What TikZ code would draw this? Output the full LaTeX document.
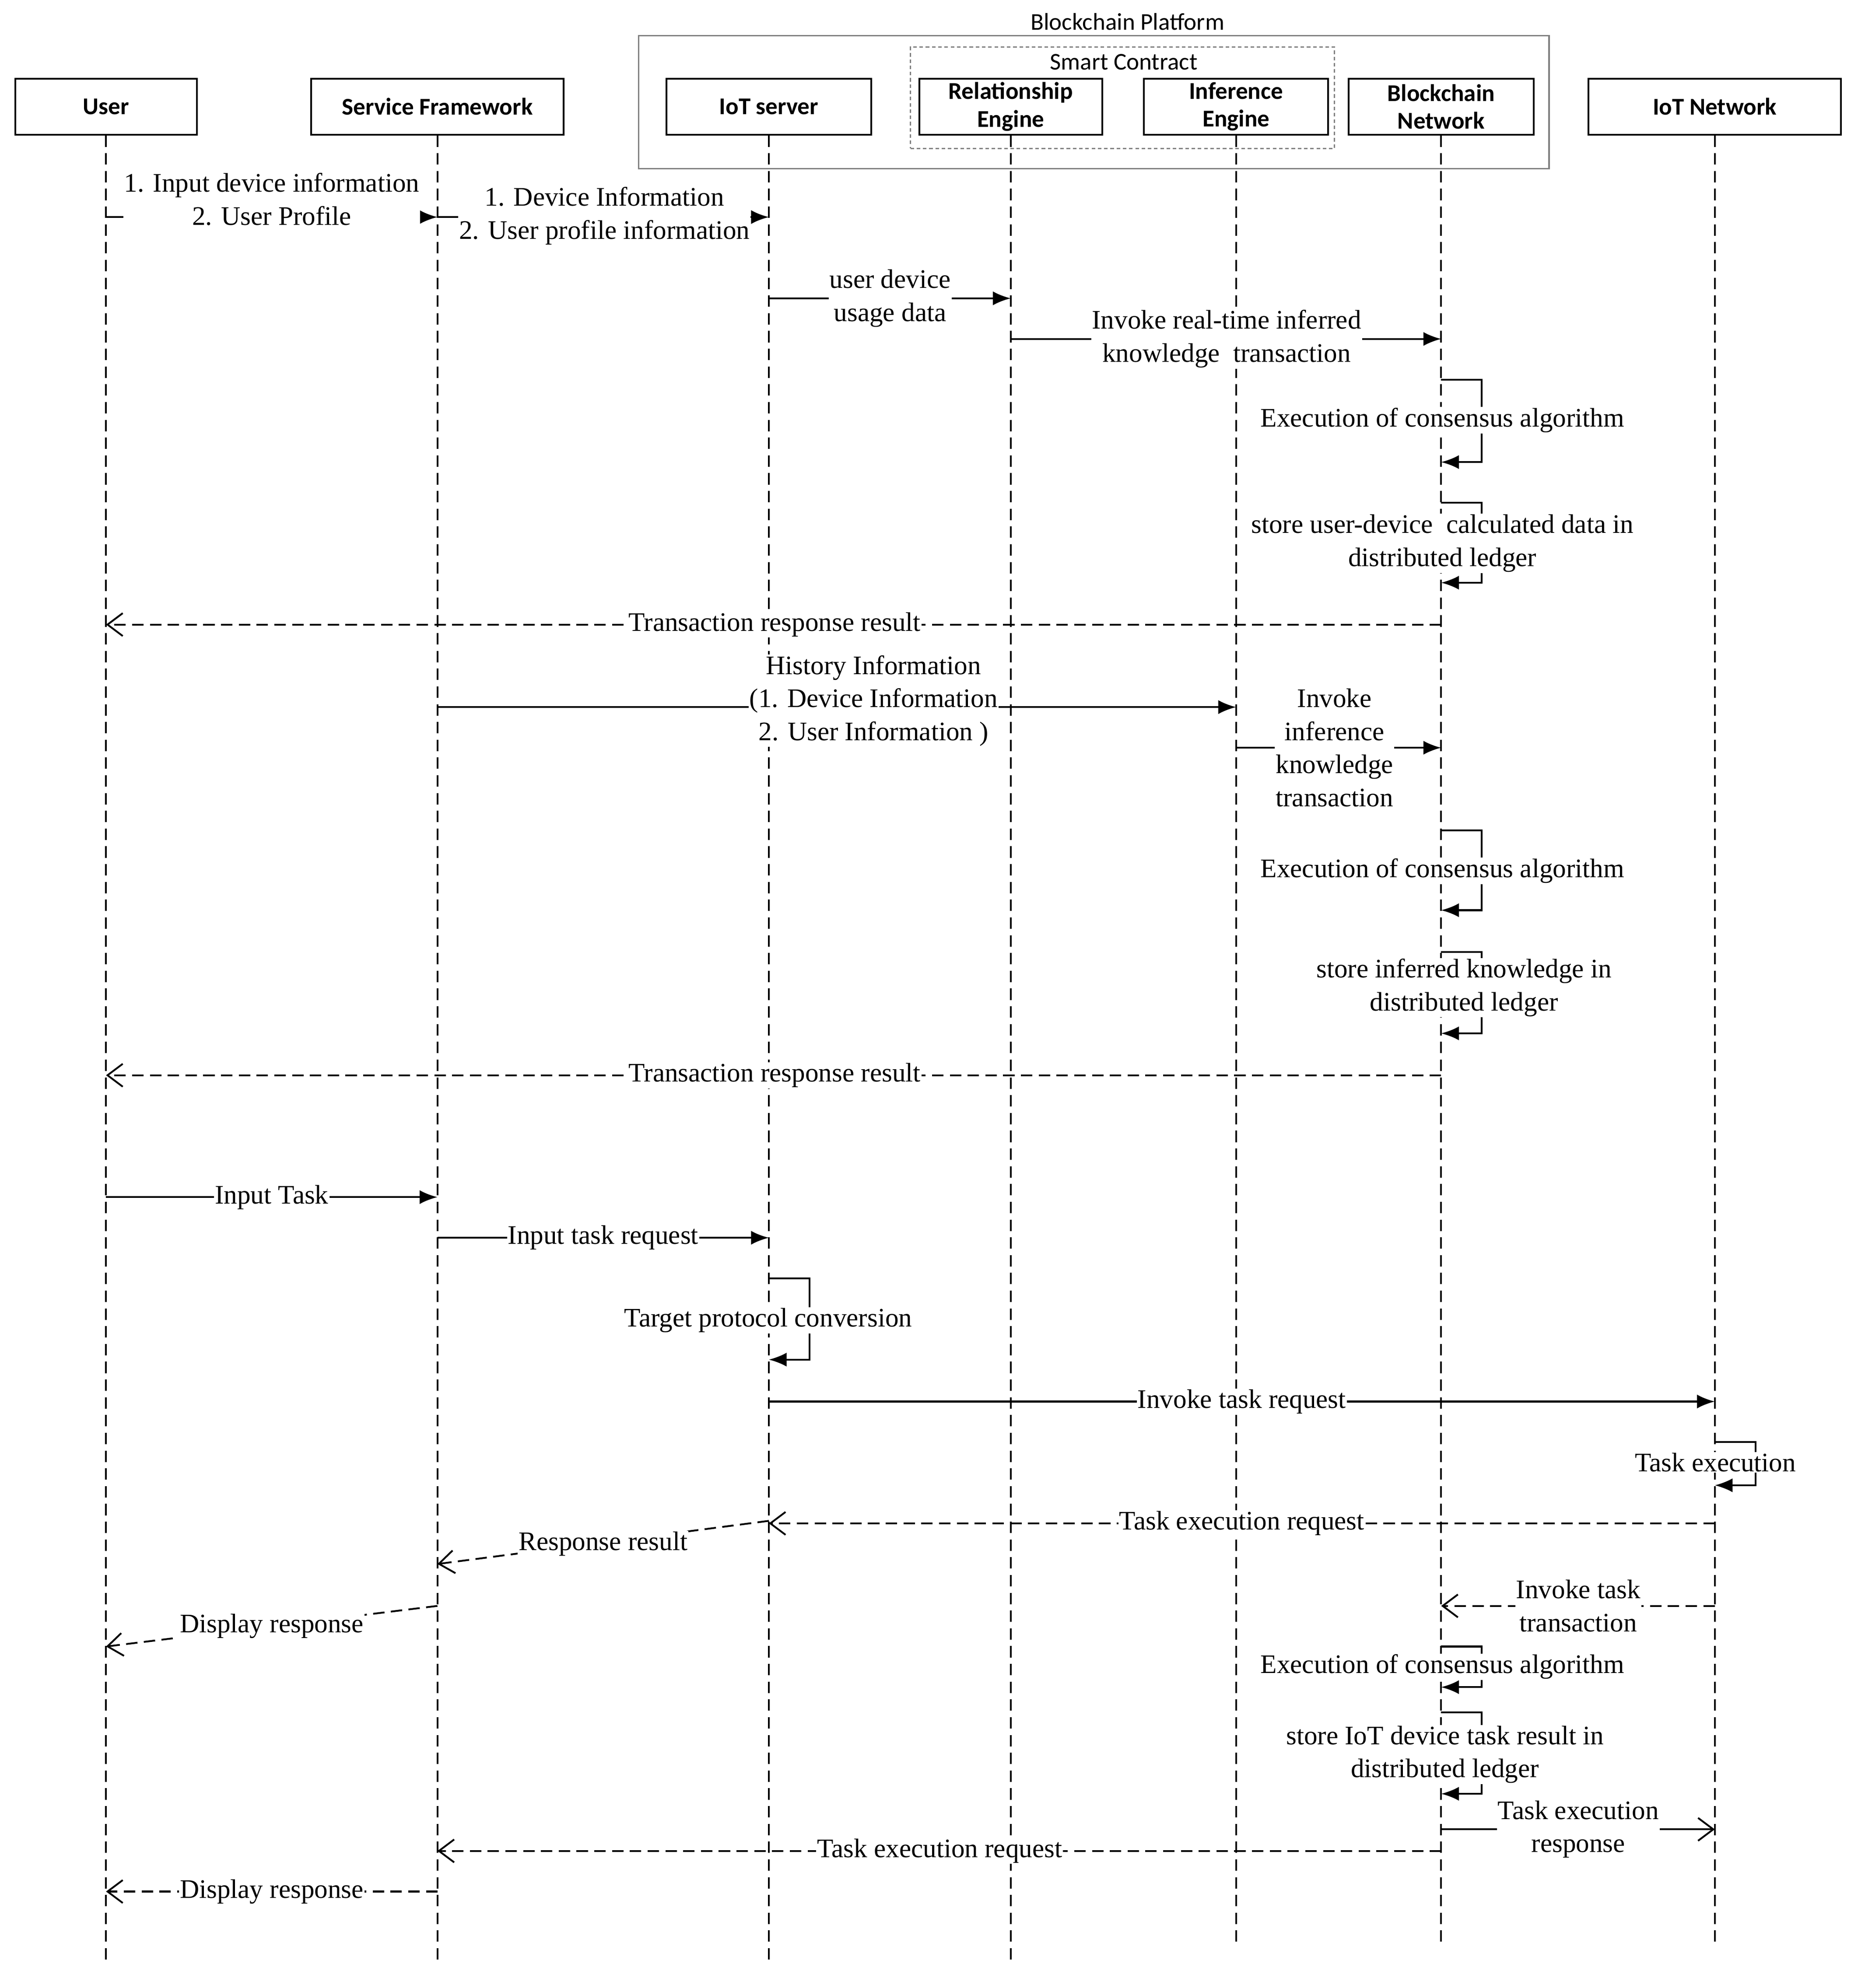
\documentclass[tikz,border=0pt]{standalone}
\usepackage{fontspec}
\setmainfont{Liberation Serif}
\newfontfamily\hdr{Carlito}
\usetikzlibrary{arrows.meta}
\begin{document}
\begin{tikzpicture}[x=0.05cm,y=-0.05cm,line width=2pt,
  hd/.style={draw,minimum height=2.2cm,inner sep=2pt,font=\hdr\bfseries\fontsize{27}{31}\selectfont,align=center},
  life/.style={dash pattern=on 0.45cm off 0.25cm},
  sol/.style={-{Latex[length=0.7cm,width=0.55cm]}},
  ret/.style={dash pattern=on 0.45cm off 0.25cm,-{Straight Barb[length=0.6cm,width=0.9cm]}},
  lb/.style={fill=white,inner sep=1pt,align=center,font=\fontsize{30}{37}\selectfont}]
\useasboundingbox (0,0) rectangle (1457.5,1566);
% platform boxes
\node[draw=gray,line width=1.5pt,minimum width=35.85cm,minimum height=5.25cm] (bp) at (861.5,80.5) {};
\node[font=\hdr\fontsize{27}{31}\selectfont] (bpl) at (888,17) {Blockchain Platform};
\node[draw=gray,line width=1.5pt,dash pattern=on 4pt off 3pt,minimum width=16.7cm,minimum height=4cm] (sc) at (884,77) {};
\node[font=\hdr\fontsize{27}{31}\selectfont] (scl) at (885,49) {Smart Contract};
% headers
\node[hd,minimum width=7.15cm] (u) at (83.5,84) {User};
\node[hd,minimum width=9.95cm] (sf) at (344.5,84) {Service Framework};
\node[hd,minimum width=8.05cm] (io) at (605.5,84) {IoT server};
\node[hd,minimum width=7.2cm] (re) at (796,84) {Relationship\\Engine};
\node[hd,minimum width=7.25cm] (ie) at (973.5,84) {Inference\\Engine};
\node[hd,minimum width=7.3cm] (bn) at (1135,84) {Blockchain\\Network};
\node[hd,minimum width=9.95cm] (in) at (1350.5,84) {IoT Network};
% lifelines
\draw[life] (u.south) -- (u|-0,1548);
\draw[life] (sf.south) -- (sf|-0,1548);
\draw[life] (io.south) -- (io|-0,1548);
\draw[life] (re.south) -- (re|-0,1548);
\draw[life] (ie.south) -- (ie|-0,1530);
\draw[life] (bn.south) -- (bn|-0,1530);
\draw[life] (in.south) -- (in|-0,1530);
% messages
\draw[sol] (u|-0,171) -- (sf|-0,171);
\node[lb] (m1) at (214,157) {1. Input device information\\2. User Profile};
\draw[sol] (sf|-0,171) -- (io|-0,171);
\node[lb] (m2) at (476,170) {1. Device Information\\2. User profile information};
\draw[sol] (io|-0,235) -- (re|-0,235);
\node[lb] (m3) at (701,235) {user device\\usage data};
\draw[sol] (re|-0,267) -- (bn|-0,267);
\node[lb] (m4) at (966,267) {Invoke real-time inferred\\knowledge\ \ transaction};
\draw[sol] (bn|-0,299) -- ++(32,0) |- (bn|-0,364);
\node[lb] (m5) at (1136,331) {Execution of consensus algorithm};
\draw[sol] (bn|-0,396) -- ++(32,0) |- (bn|-0,459);
\node[lb] (m6) at (1136,428) {store user-device\ \ calculated data in\\distributed ledger};
\draw[ret] (bn|-0,492) -- (u|-0,492);
\node[lb] (m7) at (610,492) {Transaction response result};
\draw[sol] (sf|-0,557) -- (ie|-0,557);
\node[lb] (m8) at (688,552) {History Information\\(1. Device Information\\2. User Information )};
\draw[sol] (ie|-0,589) -- (bn|-0,589);
\node[lb] (m9) at (1051,589) {Invoke\\inference\\knowledge\\transaction};
\draw[sol] (bn|-0,654) -- ++(32,0) |- (bn|-0,717);
\node[lb] (m10) at (1136,686) {Execution of consensus algorithm};
\draw[sol] (bn|-0,750) -- ++(32,0) |- (bn|-0,814);
\node[lb] (m11) at (1153,778) {store inferred knowledge in\\distributed ledger};
\draw[ret] (bn|-0,847) -- (u|-0,847);
\node[lb] (m12) at (610,847) {Transaction response result};
\draw[sol] (u|-0,943) -- (sf|-0,943);
\node[lb] (m13) at (214,943) {Input Task};
\draw[sol] (sf|-0,975) -- (io|-0,975);
\node[lb] (m14) at (475,975) {Input task request};
\draw[sol] (io|-0,1007) -- ++(32,0) |- (io|-0,1071);
\node[lb] (m15) at (605,1040) {Target protocol conversion};
\draw[sol] (io|-0,1104) -- (in|-0,1104);
\node[lb] (m16) at (978,1104) {Invoke task request};
\draw[sol] (in|-0,1136) -- ++(32,0) |- (in|-0,1170);
\node[lb] (m17) at (1351,1152) {Task execution};
\draw[ret] (in|-0,1200) -- (io|-0,1200);
\node[lb] (m18) at (978,1200) {Task execution request};
\draw[ret] (io|-0,1198) -- (sf|-0,1232);
\node[lb] (m19) at (475,1216) {Response result};
\draw[ret] (sf|-0,1265) -- (u|-0,1297);
\node[lb] (m20) at (214,1281) {Display response};
\draw[ret] (in|-0,1265) -- (bn|-0,1265);
\node[lb] (m21) at (1243,1265) {Invoke task\\transaction};
\draw[sol] (bn|-0,1297) -- ++(32,0) |- (bn|-0,1329);
\node[lb] (m22) at (1136,1313) {Execution of consensus algorithm};
\draw[sol] (bn|-0,1349) -- ++(32,0) |- (bn|-0,1413);
\node[lb] (m23) at (1138,1382) {store IoT device task result in\\distributed ledger};
\draw[-{Straight Barb[length=0.6cm,width=0.9cm]}] (bn|-0,1441) -- (in|-0,1441);
\node[lb] (m24) at (1243,1441) {Task execution\\response};
\draw[ret] (bn|-0,1458) -- (sf|-0,1458);
\node[lb] (m25) at (740,1458) {Task execution request};
\draw[ret] (sf|-0,1490) -- (u|-0,1490);
\node[lb] (m26) at (214,1490) {Display response};
\end{tikzpicture}
\end{document}
